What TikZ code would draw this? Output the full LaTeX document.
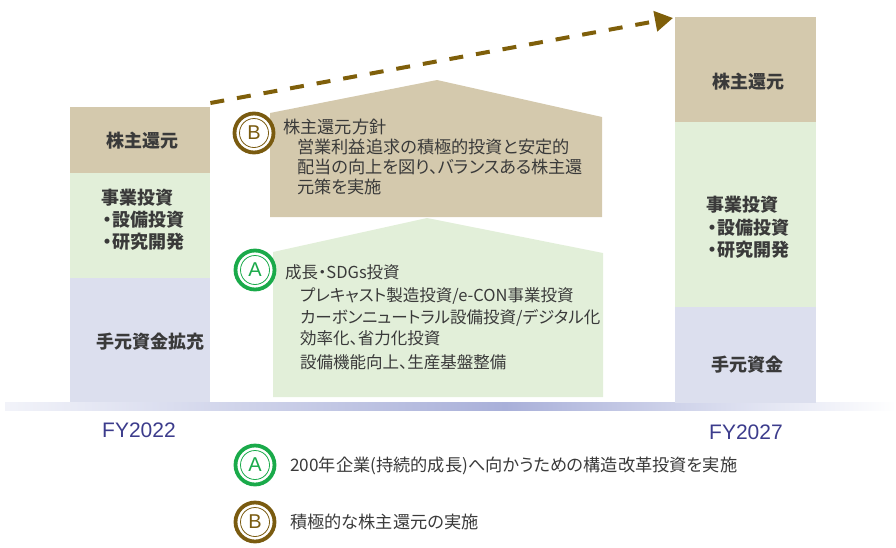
\documentclass[tikz,border=0pt]{standalone}
\usepackage{fontspec}
\setmainfont{Noto Sans CJK JP}[RawFeature={+palt}]
\newfontfamily\latinfont{Liberation Sans}
\usetikzlibrary{arrows.meta}
\definecolor{brownfill}{HTML}{D4C9AD}
\definecolor{greenfill}{HTML}{E2EFD9}
\definecolor{bluefill}{HTML}{DCDFEE}
\definecolor{stripc}{HTML}{A9B0D9}
\definecolor{txt}{HTML}{3A3A3A}
\definecolor{fyc}{HTML}{3C3C8C}
\definecolor{markA}{HTML}{1AAA4A}
\definecolor{markB}{HTML}{7A5B10}
\definecolor{arrowc}{HTML}{7F5F0A}
\begin{document}
\begin{tikzpicture}[x=1pt,y=-1pt,
  bar/.style={rectangle, inner sep=0pt, anchor=north west, draw=none},
  lbl/.style={font=\fontsize{18}{20}\selectfont\bfseries, text=txt, inner sep=0pt},
  body/.style={font=\fontsize{16.5}{20}\selectfont, text=txt, inner sep=0pt, anchor=base west},
  bodyL/.style={body, font=\fontsize{17.2}{20}\selectfont},
  fy/.style={font=\latinfont\fontsize{21}{24}\selectfont, text=fyc, inner sep=0pt},
  badge/.style={circle, draw=#1, line width=3.8pt, fill=white, minimum size=39pt, inner sep=0pt,
    text=#1, font=\latinfont\fontsize{20}{20}\selectfont,
    path picture={\draw[#1, line width=0.8pt] (path picture bounding box.center) circle[radius=14.5pt];}},
  growth/.style={draw=arrowc, line width=4pt, dash pattern=on 14pt off 13pt,
    -{Triangle[length=18pt, width=20pt]}}
]
\useasboundingbox (0,0) rectangle (896,547);

% baseline strip
\shade[left color=white!85!stripc, right color=stripc] (5,402) rectangle (505,410);
\shade[left color=stripc, right color=white] (505,402) rectangle (896,410);

% left bar
\node[bar, fill=brownfill, minimum width=140pt, minimum height=66pt] (lb1) at (70,107) {};
\node[bar, fill=greenfill, minimum width=140pt, minimum height=105pt] (lb2) at (70,173) {};
\node[bar, fill=bluefill, minimum width=140pt, minimum height=124pt] (lb3) at (70,278) {};

% right bar
\node[bar, fill=brownfill, minimum width=141pt, minimum height=105pt] (rb1) at (675,17) {};
\node[bar, fill=greenfill, minimum width=141pt, minimum height=185pt] (rb2) at (675,122) {};
\node[bar, fill=bluefill, minimum width=141pt, minimum height=96pt] (rb3) at (675,307) {};

% middle pentagons
\fill[brownfill] (270,217) -- (270,113) -- (437,80) -- (602,117) -- (602,217) -- cycle;
\fill[greenfill] (273,397) -- (273,252) -- (427,218) -- (603,253) -- (603,397) -- cycle;

% arrow
\draw[growth] ([shift={(0,-4)}]lb1.north east) -- ([shift={(-2,1)}]rb1.north west);

% left bar labels
\node[lbl] (l1t) at (142,141) {株主還元};
\node[lbl, anchor=west] (l2a) at (101,198) {事業投資};
\node[lbl, anchor=west] (l2b) at (103,220) {・設備投資};
\node[lbl, anchor=west] (l2c) at (103,242) {・研究開発};
\node[lbl] (l3t) at (150,342) {手元資金拡充};

% right bar labels
\node[lbl] (r1t) at (748,82) {株主還元};
\node[lbl, anchor=west] (r2a) at (706,205) {事業投資};
\node[lbl, anchor=west] (r2b) at (708,228) {・設備投資};
\node[lbl, anchor=west] (r2c) at (708,250) {・研究開発};
\node[lbl] (r3t) at (747,365) {手元資金};

% B box
\node[badge=markB] (bB) at (254,133) {B};
\node[bodyL] (bt) at (283,133) {株主還元方針};
\node[bodyL] (b1) at (297,153) {営業利益追求の積極的投資と安定的};
\node[bodyL] (b2) at (297,173) {配当の向上を図り、バランスある株主還};
\node[bodyL] (b3) at (297,193) {元策を実施};

% A box
\node[badge=markA] (bA) at (255,270) {A};
\node[body] (at) at (285,278) {成長・SDGs投資};
\node[body] (a1) at (300,301) {プレキャスト製造投資/e-CON事業投資};
\node[body] (a2) at (300,323) {カーボンニュートラル設備投資/デジタル化};
\node[body] (a3) at (300,344) {効率化、省力化投資};
\node[body] (a4) at (300,368) {設備機能向上、生産基盤整備};

% years
\node[fy] (fy1) at (139,430) {FY2022};
\node[fy] (fy2) at (746,432) {FY2027};

% legend
\node[badge=markA] (lgA) at (255,465) {A};
\node[bodyL] (lgAt) at (290,471) {200年企業(持続的成長)へ向かうための構造改革投資を実施};
\node[badge=markB] (lgB) at (255,522) {B};
\node[bodyL] (lgBt) at (290,528) {積極的な株主還元の実施};
\end{tikzpicture}
\end{document}
